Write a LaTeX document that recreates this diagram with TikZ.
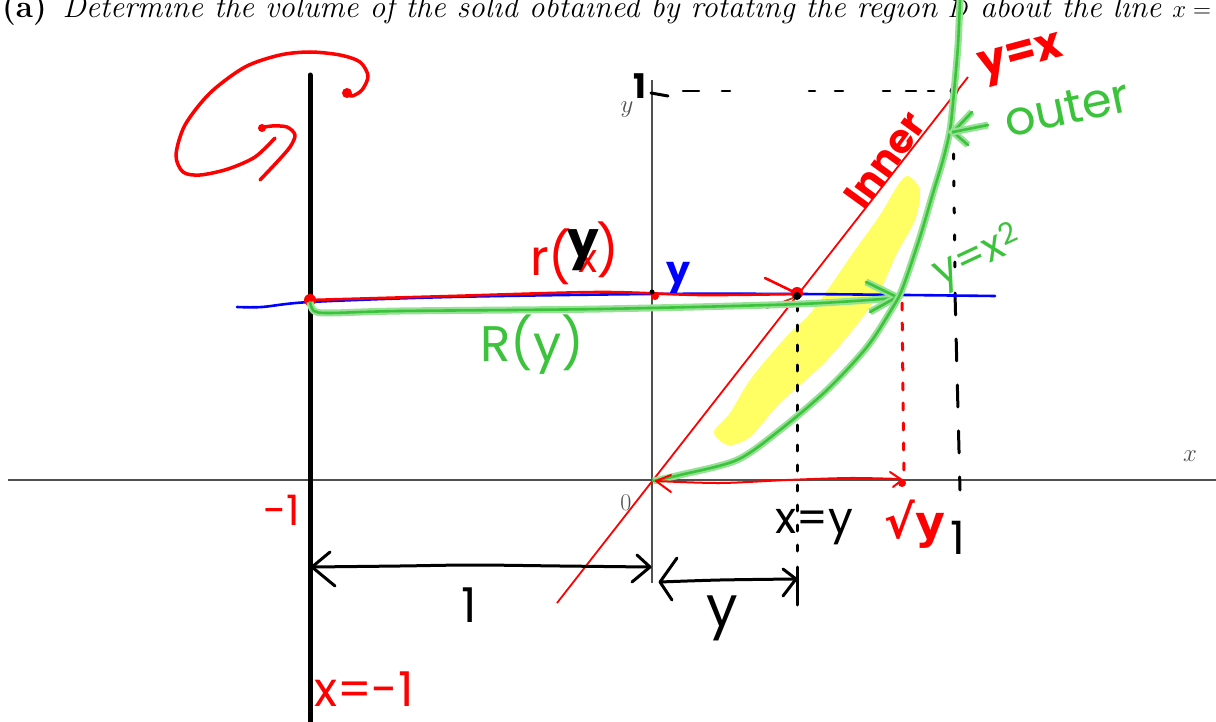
\documentclass[tikz,border=0pt]{standalone}
\usepackage{fontspec}
\newfontfamily\hand{Poppins}
\newfontfamily\dejav{DejaVu Sans}
\definecolor{hred}{RGB}{255,0,0}
\definecolor{hgreen}{RGB}{60,195,60}
\definecolor{hglight}{RGB}{150,225,150}
\definecolor{hblue}{RGB}{0,0,255}
\definecolor{hyellow}{RGB}{255,255,100}
\definecolor{axisgray}{RGB}{80,80,80}
\tikzset{
  pen/.style={line cap=round, line join=round, line width=2.6pt},
  rpen/.style={pen, draw=hred},
  bpen/.style={pen, draw=black},
  blpen/.style={pen, draw=hblue},
  gpen/.style={pen, draw=hgreen, preaction={draw=hglight, line width=7pt}},
  htext/.style={font=\hand, inner sep=0pt},
  axlabel/.style={inner sep=0pt, text=axisgray, font=\fontsize{24}{28}\selectfont},
}
\begin{document}
\begin{tikzpicture}[x=1pt,y=-1pt]
\useasboundingbox[fill=white] (0,0) rectangle (1216,722);
% title
\node[anchor=base west, inner sep=0pt, font=\fontsize{31.4}{36}\selectfont] (title) at (2,18)
  {\textbf{(a)}\enspace\textit{Determine the volume of the solid obtained by rotating the region $D$ about the line $x=$}};
% yellow highlight
\fill[hyellow] plot[smooth cycle] coordinates {(908,176) (920,190) (915,220) (897,253) (873,303) (827,360) (780,403) (750,437) (728,445) (714,432) (730,413) (750,380) (785,338) (813,310) (853,253) (880,215) (898,185)};
% axes
\draw[line width=1.2pt, axisgray] (8,480) -- (1216,480);
\draw[line width=1.2pt, axisgray] (652,80) -- (652,583);
\node[axlabel] (xl) at (1190,456) {$x$};
\node[axlabel] (yl) at (627,110) {$y$};
\node[axlabel] (zl) at (626,503) {0};
% thick axis of rotation
\draw[line width=5pt, line cap=round] (310,75) -- (310,730);
% red line y=x
\draw[hred, line width=1.8pt] (557,603) -- (968,77);
% dashed verticals / horizontal
\draw[bpen, line width=3pt, dash pattern=on 6pt off 14pt] (797,305) -- (797,560);
\draw[bpen, line width=3pt] (797,567) -- (797,605);
\draw[bpen, line width=3pt, dash pattern=on 5pt off 22pt] (953,100) -- (955,280);
\draw[bpen, line width=3pt, dash pattern=on 22pt off 24pt] (955,293) -- (960,490);
\draw[rpen, line width=3pt, dash pattern=on 7pt off 13pt] (902,303) -- (904,478);
\foreach \a/\b in {683/699,722/730,809/815,835/843,883/890,906/916,928/934}
  \draw[bpen, line width=2.6pt] (\a,91) -- (\b,91);
\draw[bpen, line width=3pt] (651,93) -- (668,96);
\fill (954,91) circle (4.5pt);
% blue line
\draw[blpen] plot[smooth] coordinates {(237,307) (262,307) (310,302) (450,297) (650,294) (800,294) (995,296)};
% red r(y) line
\draw[rpen] plot[smooth] coordinates {(310,300) (450,296) (600,292) (700,295) (797,294)};
\draw[rpen] (765,278) -- (798,294);
\draw[pen, draw={rgb,255:red,190;green,60;blue,20}, line width=1.8pt] (767,308) -- (793,298);
\fill[hred] (310,300) circle (6pt);
\fill[hred] (655,296) circle (4pt);
\fill[black] (652,292) circle (2.5pt);
\fill[hred] (797,293) circle (6pt);
\fill[black] (797,296) circle (4pt);
% green R(y) line
\draw[gpen] plot[smooth] coordinates {(310,302) (314,311) (330,313) (400,311) (600,309) (800,304) (895,298)};
\draw[gpen] (866,282) -- (897,297) -- (870,312);
% green curve y=x^2
\draw[gpen] plot[smooth] coordinates {(653,481) (680,475) (737,460) (780,430) (827,390) (867,347) (893,307) (903,287) (920,237) (933,193) (943,160) (950,130) (954,92) (958,45) (960,0)};
% red dot and double arrow on the x axis
\draw[rpen, line width=2pt] plot[smooth] coordinates {(656,481) (720,483) (787,480) (850,478) (900,479)};
\draw[rpen, line width=2pt] (671,475) -- (656,481) -- (671,492);
\draw[rpen, line width=2pt] (890,472) -- (902,480) -- (893,487);
\fill[hred] (902,483) circle (4pt);
% black double arrows
\draw[bpen, line width=3pt] plot[smooth] coordinates {(312,567) (400,566) (473,565) (560,566) (648,567)};
\draw[bpen, line width=3pt] (330,552) -- (312,567) -- (335,586);
\draw[bpen, line width=3pt] (637,555) -- (650,567) -- (632,582);
\draw[bpen, line width=3pt] plot[smooth] coordinates {(660,582) (720,580) (796,579)};
\draw[bpen, line width=3pt] (677,558) -- (660,582) -- (672,600);
\draw[bpen, line width=3pt] (783,569) -- (796,579) -- (783,596);
% red rotation arrow
\draw[rpen, line width=3.5pt] plot[smooth] coordinates {(345,93) (352,96) (362,90) (368,76) (360,62) (340,55) (310,52) (280,55) (245,67) (210,93) (185,125) (176,155) (183,172) (200,175) (228,169) (255,157) (275,138)};
\draw[rpen, line width=3.5pt] plot[smooth] coordinates {(260,128) (272,126) (287,127) (295,135) (290,147) (277,162) (260,180)};
\fill[hred] (262,128) circle (4pt);
\fill[hred] (347,93) circle (5pt);
% outer arrow
\draw[gpen] (972,112) -- (953,132) -- (968,145);
\draw[gpen] (953,132) -- (988,125);
% handwritten labels
\node[htext, text=hred, font=\fontsize{50}{50}\hand] (rl) at (551,257) {r(};
\node[htext, text=hred, font=\fontsize{40}{50}\hand] (rx) at (588,262) {x};
\node[htext, text=black, font=\fontsize{50}{50}\hand\bfseries] (ry) at (583,250) {y};
\node[htext, text=hred, font=\fontsize{50}{50}\hand] (rr) at (608,250) {)};
\node[htext, text=hblue, font=\fontsize{38}{40}\hand\bfseries] (by) at (679,278) {y};
\node[htext, text=hgreen, font=\fontsize{50}{60}\hand] (Ry) at (532,345) {R(y)};
\node[htext, text=hred, rotate=54, font=\fontsize{40}{44}\hand\bfseries] (inner) at (885,160) {Inner};
\node[htext, text=hred, rotate=15, font=\fontsize{44}{44}\hand\bfseries] (yx) at (1022,60) {y=x};
\node[htext, text=hgreen, rotate=12, font=\fontsize{48}{50}\hand] (outer) at (1067,108) {outer};
\node[htext, text=hgreen, rotate=25, font=\fontsize{42}{44}\hand] (yx2) at (978,258) {y=x\textsuperscript{2}};
\node[htext, text=hred, font=\fontsize{42}{44}\hand] (m1) at (282,510) {-1};
\node[htext, text=hred, anchor=base, font=\fontsize{48}{50}\hand] (xm1) at (364,706) {x=-1};
\node[htext, text=black, font=\fontsize{44}{48}\hand] (xy) at (814,527) {x=y};
\node[htext, text=hred, font=\fontsize{46}{50}\dejav\bfseries] (sy) at (915,524) {√y};
\node[htext, text=black, font=\fontsize{46}{50}\hand] (one1) at (958,538) {1};
\node[htext, text=black, font=\fontsize{48}{50}\hand] (one2) at (469,605) {1};
\node[htext, text=black, font=\fontsize{56}{60}\hand] (yb) at (722,618) {y};
\node[htext, text=black, font=\fontsize{34}{36}\hand\bfseries] (one3) at (640,86) {1};
\end{tikzpicture}
\end{document}
